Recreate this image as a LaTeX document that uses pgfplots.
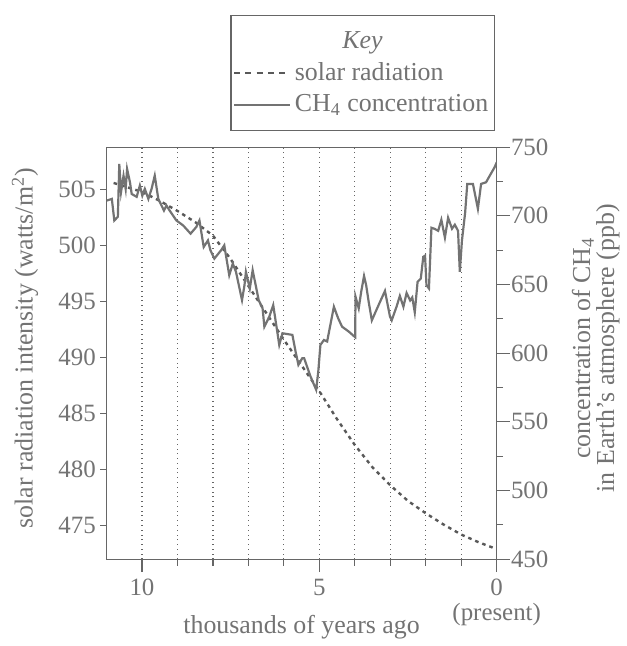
\documentclass[border=0pt]{standalone}
\usepackage{fontspec}
\setmainfont{Liberation Serif}
\usepackage{pgfplots}
\pgfplotsset{compat=1.18}
\definecolor{txt}{gray}{0.45}
\definecolor{axl}{gray}{0.40}
\definecolor{ln}{gray}{0.45}
\definecolor{sol}{gray}{0.35}

\pgfplotsset{
  refaxis/.style={
    scale only axis, width=196pt, height=207pt,
    xmin=0, xmax=11, x dir=reverse,
    axis line style={axl, line width=0.6pt},
    tick style={axl, line width=0.6pt},
    tick align=outside,
    tick label style={font=\fontsize{12.5}{12.5}\selectfont, text=txt},
    label style={font=\fontsize{13}{12}\selectfont, text=txt},
    /pgf/number format/assume math mode=true,
  },
}

% solar radiation (W/m^2)
\pgfplotstableread{
x v
10.8 505.6
10.5 505.3
10.0 504.8
9.5 504.0
9.0 503.1
8.5 502.1
8.0 500.9
7.5 498.8
7.0 496.4
6.5 494.0
6.0 491.6
5.5 489.3
5.0 487.0
4.5 484.5
4.0 482.2
3.5 480.2
3.0 478.6
2.5 477.2
2.0 476.1
1.5 475.1
1.0 474.2
0.5 473.5
0.0 472.9
}\solar

% CH4 (ppb)
\pgfplotstableread{
x c
10.99 711.1
10.85 712.3
10.78 696.6
10.68 699.3
10.64 737.7
10.59 717.4
10.52 729.2
10.46 719.6
10.42 734.1
10.34 724.6
10.29 715.9
10.15 713.8
10.06 722.0
9.99 714.7
9.92 719.6
9.82 712.3
9.73 719.6
9.64 729.2
9.54 712.3
9.38 703.8
9.31 707.5
9.22 703.8
9.03 696.6
8.84 693.0
8.63 687.0
8.47 691.8
8.38 696.6
8.26 677.3
8.14 682.1
8.07 674.9
7.96 668.8
7.77 674.9
7.68 678.5
7.54 656.7
7.44 665.2
7.35 659.2
7.18 638.6
7.11 649.5
7.07 659.2
6.96 647.1
6.88 660.4
6.71 638.6
6.60 632.6
6.55 619.3
6.41 626.6
6.30 635.0
6.13 606.0
6.04 614.5
5.76 613.3
5.67 601.2
5.59 591.5
5.48 596.4
5.43 596.4
5.25 583.1
5.09 573.4
5.03 586.7
4.97 606.0
4.87 609.6
4.78 608.5
4.69 620.5
4.59 633.8
4.47 625.4
4.36 619.3
4.17 615.7
3.99 611.6
3.98 641.1
3.89 632.6
3.82 644.7
3.74 656.2
3.68 649.5
3.61 637.5
3.52 623.9
3.33 635.0
3.15 645.3
3.01 626.8
2.96 623.9
2.82 634.1
2.73 641.7
2.63 633.8
2.54 643.8
2.44 638.4
2.38 640.6
2.31 629.7
2.23 652.0
2.14 654.3
2.07 670.1
2.02 671.0
1.98 649.5
1.91 647.1
1.84 691.3
1.76 690.6
1.65 689.1
1.56 697.1
1.46 684.1
1.37 698.6
1.26 690.6
1.18 693.5
1.09 689.1
1.04 659.2
0.98 681.9
0.89 702.2
0.83 723.2
0.67 723.2
0.53 705.1
0.44 723.2
0.30 724.4
0.20 729.0
0.06 735.3
0.00 738.9
}\methane

\begin{document}
\begin{tikzpicture}
% left axis: solar radiation
\begin{axis}[
  refaxis,
  ymin=472, ymax=508.8,
  ytick={475,480,...,505}, ytick pos=left,
  xtick={1,...,10}, xticklabels={}, xtick pos=left,
  major tick length=3.2pt,
  xmajorgrids, major grid style={axl, dotted, line width=0.6pt},
  yticklabel style={inner xsep=2pt},
  ylabel={solar radiation intensity (watts/m\textsuperscript{2})},
  ylabel style={at={(rel axis cs:-0.209,0.512)}, anchor=center},
]
\addplot[sol, line width=1.2pt, dash pattern=on 1.8pt off 2pt] table[x=x, y=v] {\solar};
\end{axis}
% right axis: CH4
\begin{axis}[
  refaxis,
  ymin=450, ymax=750,
  axis y line*=right, axis x line*=bottom,
  ytick={450,500,...,750}, minor ytick={475,525,...,725},
  xtick={0,5,10}, xticklabels={{0\\(present)},5,10},
  xticklabel style={align=center},
  yticklabel style={inner xsep=0.5pt},
  major tick length=6.5pt, minor tick length=3.2pt,
  xlabel={thousands of years ago},
  xlabel style={at={(rel axis cs:0.5,-0.181)}, anchor=base},
  ylabel={concentration of CH\textsubscript{4}\\in Earth's atmosphere (ppb)},
  ylabel style={align=center, at={(rel axis cs:1.254,0.512)}, anchor=center},
  legend cell align=left,
  legend image code/.code={\draw[#1] (0pt,0pt) -- (28pt,0pt);},
  legend style={at={(rel axis cs:0.995,1.0386)}, anchor=south east,
    draw=axl, line width=0.6pt, fill=white, text=txt,
    font=\fontsize{13}{15}\selectfont, inner xsep=1pt, inner ysep=6pt,
    row sep=1.5pt},
]
\addlegendimage{empty legend}
\addlegendentry{\makebox[68pt][c]{\textit{Key}}}
\addlegendimage{sol, line width=0.7pt, dash pattern=on 3pt off 2.7pt}
\addlegendentry{solar radiation}
\addplot[ln, line width=1.1pt] table[x=x, y=c] {\methane};
\addlegendentry{CH\textsubscript{4} concentration}
\coordinate (bbl) at (rel axis cs:-0.273,-0.203);
\coordinate (btr) at (rel axis cs:1.324,1.357);
\end{axis}
\path (bbl) rectangle (btr);
\end{tikzpicture}
\end{document}
